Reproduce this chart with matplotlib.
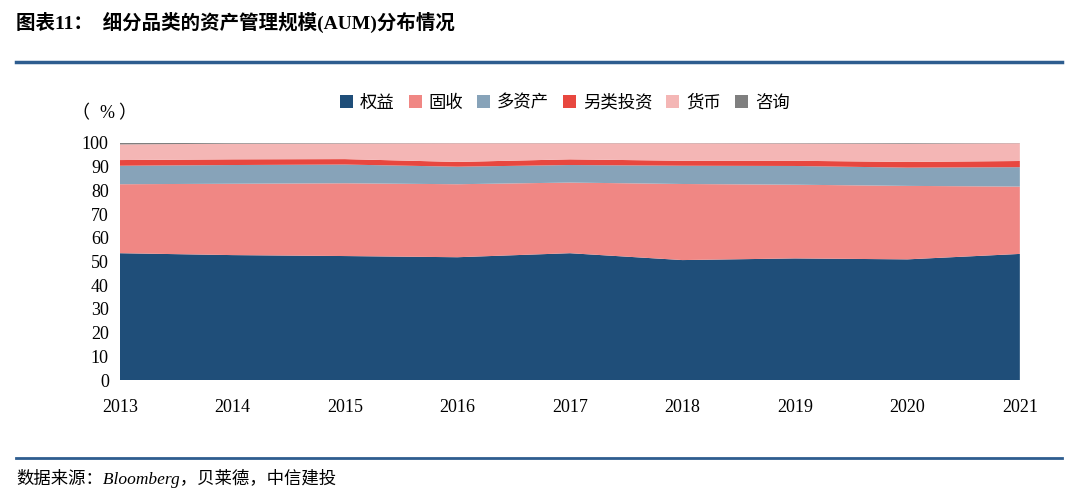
import matplotlib
matplotlib.use("Agg")
import matplotlib.pyplot as plt
import numpy as np

years = [2013, 2014, 2015, 2016, 2017, 2018, 2019, 2020, 2021]
equity = [53.5, 52.7, 52.3, 51.8, 53.5, 50.6, 51.3, 50.9, 53.2]
fixed_income = [29.1, 30.1, 30.7, 30.8, 29.8, 32.1, 31.1, 31.0, 28.4]
multi_asset = [7.8, 7.9, 7.9, 7.4, 7.4, 7.7, 7.9, 7.7, 8.2]
alternatives = [2.4, 2.4, 2.3, 2.0, 2.4, 2.1, 2.2, 2.4, 2.6]
cash = [6.6, 6.6, 6.6, 7.9, 6.8, 7.4, 7.3, 7.7, 7.5]
advisory = [0.6, 0.3, 0.2, 0.1, 0.1, 0.1, 0.2, 0.3, 0.1]

labels = ["权益", "固收", "多资产", "另类投资", "货币", "咨询"]
colors = ["#1f4e79", "#f08784", "#87a3b9", "#e8473f", "#f4b6b5", "#7f7f7f"]

cjk = ["Noto Sans CJK SC", "DejaVu Sans"]
serif = ["Liberation Serif", "DejaVu Serif"]
mixed = ["Liberation Serif", "Noto Sans CJK SC"]

fig = plt.figure(figsize=(10.8, 5.01), dpi=100)
ax = fig.add_axes([0.111, 0.2415, 0.8333, 0.4731])

series = [equity, fixed_income, multi_asset, alternatives, cash, advisory]
ax.stackplot(years, *series, colors=colors, labels=labels, linewidth=0)

ax.set_xlim(2013, 2021)
ax.set_ylim(0, 100)
ax.set_yticks(np.arange(0, 101, 10))
ax.set_xticks(years)
for s in ax.spines.values():
    s.set_visible(False)
ax.tick_params(length=0, pad=8)
for lab in ax.get_xticklabels() + ax.get_yticklabels():
    lab.set_family(serif)
    lab.set_fontsize(13)
ax.tick_params(axis="x", pad=14)

handles, labs = ax.get_legend_handles_labels()
fig.legend(handles, labs, loc="center", bbox_to_anchor=(0.523, 0.795), ncol=6,
           frameon=False, prop={"family": cjk, "size": 12.5},
           handlelength=0.75, handleheight=0.75, handletextpad=0.4, columnspacing=0.8)

fig.text(0.066, 0.773, "（", family=cjk, fontsize=13, va="center")
fig.text(0.092, 0.773, "%", family=serif, fontsize=13, va="center")
fig.text(0.109, 0.773, "）", family=cjk, fontsize=13, va="center")

# header and footer
fig.text(0.015, 0.955, "图表11：  细分品类的资产管理规模(AUM)分布情况", family=mixed,
         fontsize=14, fontweight="bold", va="center")
fig.add_artist(plt.Line2D([0.015, 0.983], [0.876, 0.876], color="#2e5d8f", lw=2.5))
fig.add_artist(plt.Line2D([0.015, 0.983], [0.085, 0.085], color="#2e5d8f", lw=2))
fig.text(0.015, 0.045, "数据来源：Bloomberg，贝莱德，中信建投", family=mixed,
         fontsize=12.5, style="italic", va="center")

fig.savefig("out.png", dpi=100)
